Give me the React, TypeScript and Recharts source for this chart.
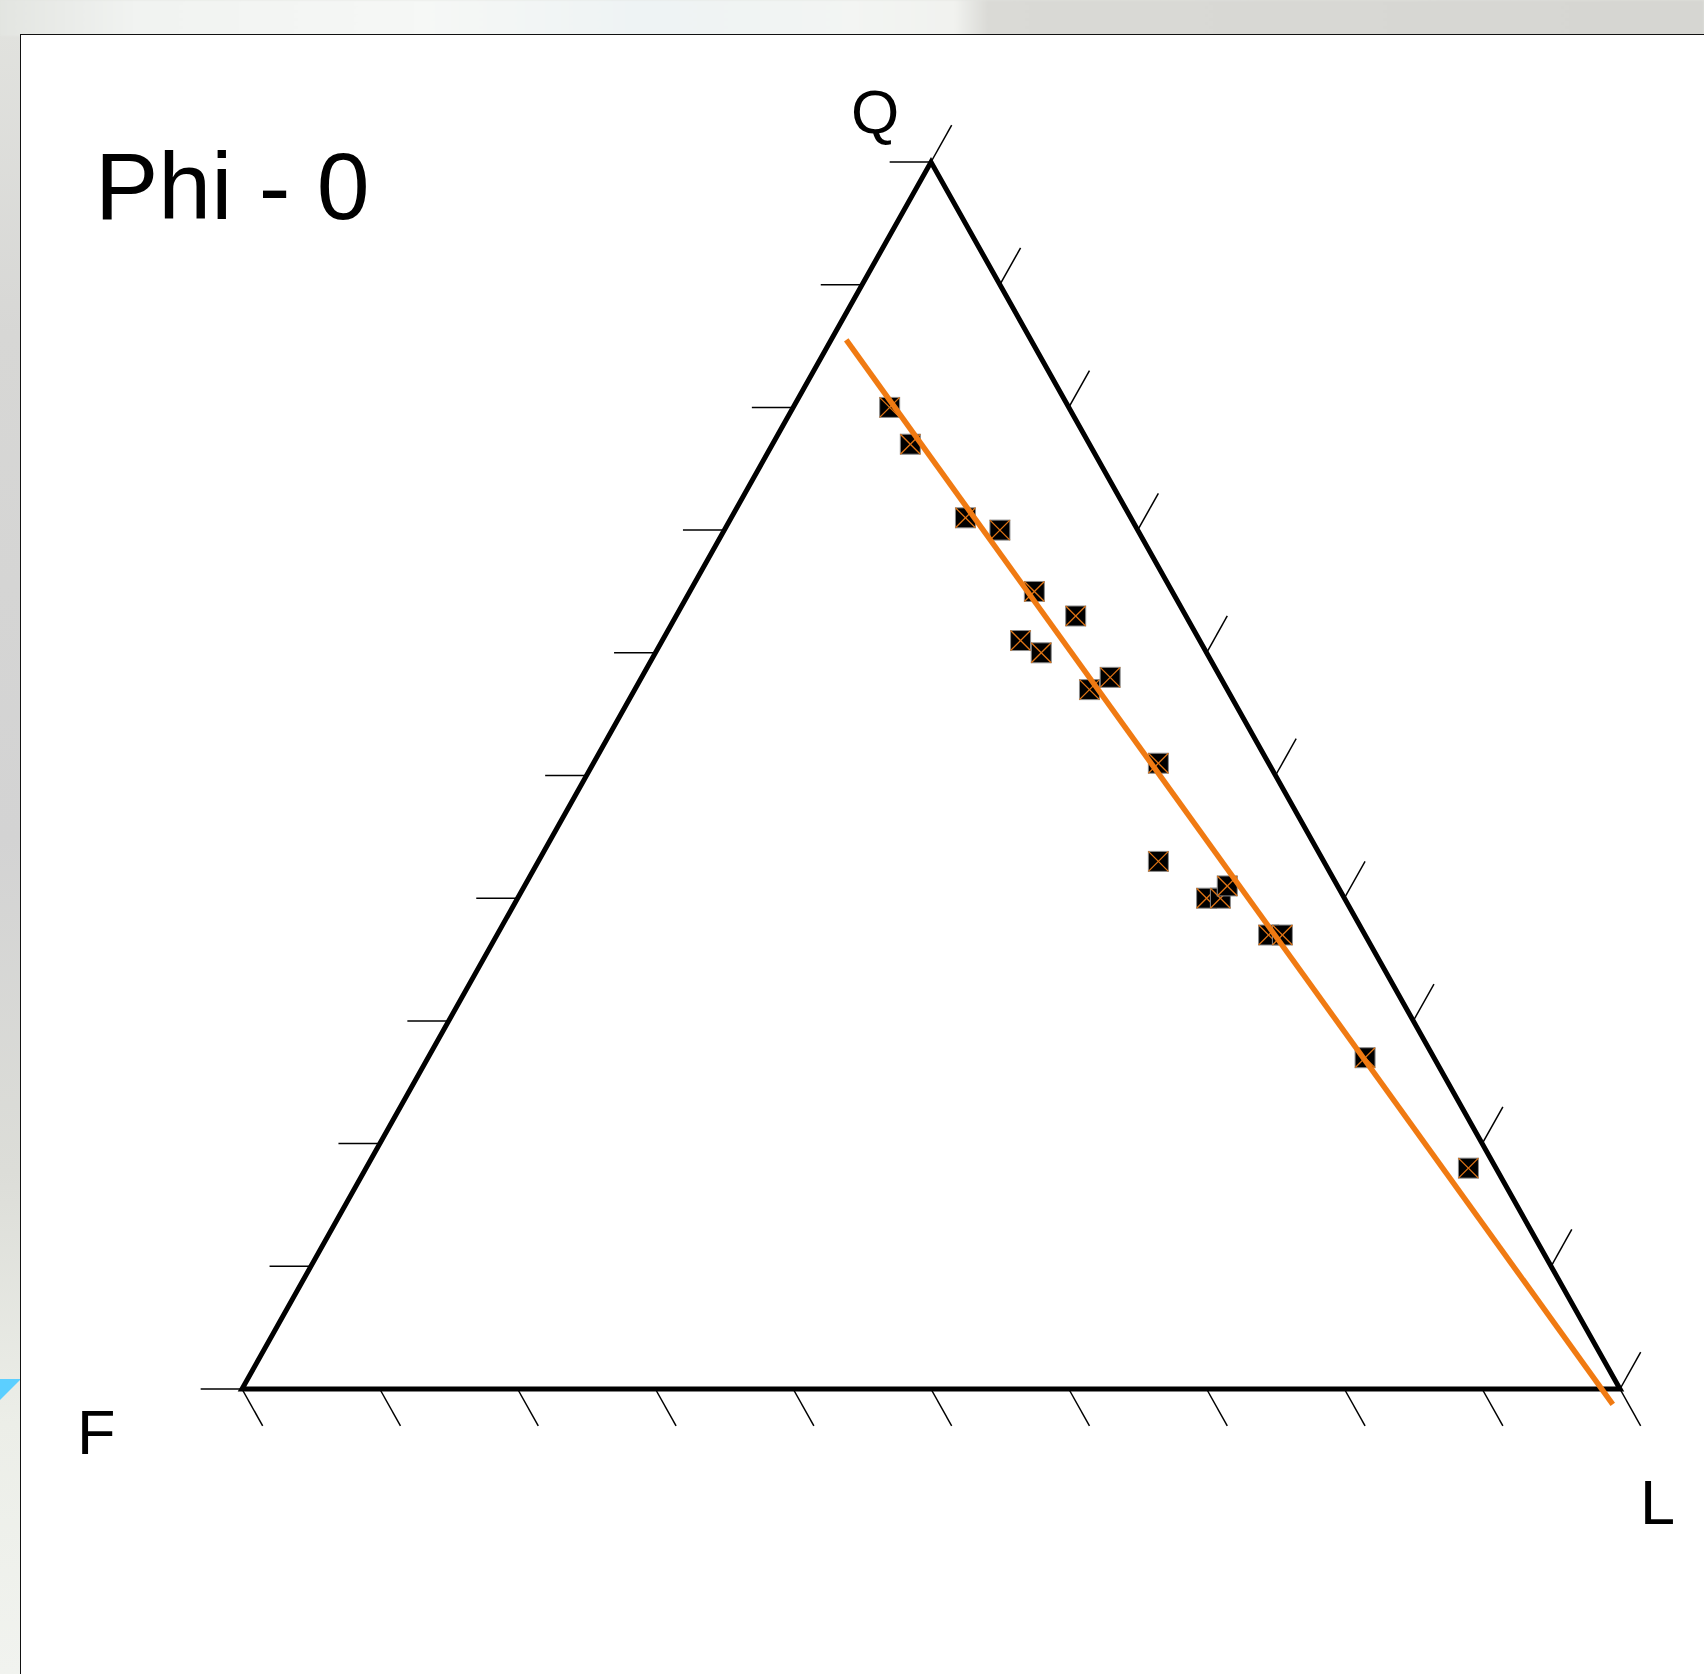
import React from 'react';
import { ScatterChart, Scatter, XAxis, YAxis, ReferenceLine } from 'recharts';

// Ternary composition of each sample (percent). F = 100 - Q - L.
const quartz = [80, 77, 71, 70, 65, 63, 61, 60, 57, 58, 51, 43, 40, 40, 41, 37, 37, 27, 18];
const lithics = [7, 10, 17, 20, 25, 29, 26, 28, 33, 34, 41, 45, 50, 51, 51, 56, 57, 68, 80];

// End points of the fitted trend line (Q, L)
const trendQ = [85.5, -1.25];
const trendL = [1.1, 100.1];

// Tick positions along each edge (percent)
const tickSteps = [0, 10, 20, 30, 40, 50, 60, 70, 80, 90, 100];

const title = 'Phi - 0';
const apexLabels = { q: 'Q', f: 'F', l: 'L' };

// Layout
const W = 1704;
const H = 1674;
const F_PX = { x: 242, y: 1389 };
const L_PX = { x: 1620, y: 1389 };
const Q_PX = { x: 931, y: 162 };

const xUnit = (L_PX.x - F_PX.x) / 100;
const yUnit = (F_PX.y - Q_PX.y) / 100;
const xDomain: [number, number] = [-F_PX.x / xUnit, (W - F_PX.x) / xUnit];
const yDomain: [number, number] = [-(H - F_PX.y) / yUnit, F_PX.y / yUnit];

const ORANGE = '#f07a12';
const FONT = '"Liberation Sans", Arial, Helvetica, sans-serif';

// Ternary (Q, L) -> cartesian with F at (0,0), L at (100,0), Q at (50,100)
const toXY = (q: number, l: number) => ({ x: l + q / 2, y: q });

const samples = quartz.map((q, i) => ({ ...toXY(q, lithics[i]), q, l: lithics[i], f: 100 - q - lithics[i] }));
const trend = trendQ.map((q, i) => toXY(q, trendL[i]));
const outline = [toXY(0, 0), toXY(0, 100), toXY(100, 0), toXY(0, 0), toXY(0, 100)];

const TICK = 0.03;
const baseTicks = tickSteps.map((s) => {
  const p = toXY(0, s);
  return [p, { x: p.x + 50 * TICK, y: p.y - 100 * TICK }];
});
const leftTicks = tickSteps.map((s) => {
  const p = toXY(s, 0);
  return [p, { x: p.x - 100 * TICK, y: p.y }];
});
const rightTicks = tickSteps.map((s) => {
  const p = toXY(s, 100 - s);
  return [p, { x: p.x + 50 * TICK, y: p.y + 100 * TICK }];
});

const SampleMarker = (props: any) => {
  const { cx, cy } = props;
  const h = 10;
  return (
    <g>
      <rect x={cx - h} y={cy - h} width={2 * h} height={2 * h} fill="#000" stroke="#8c8c8c" strokeWidth={1} />
      <line x1={cx - h} y1={cy - h} x2={cx + h} y2={cy + h} stroke="#e07414" strokeWidth={1.3} />
      <line x1={cx + h} y1={cy - h} x2={cx - h} y2={cy + h} stroke="#e07414" strokeWidth={1.3} />
    </g>
  );
};

const NoMarker = () => <g />;

export default function App() {
  return (
    <div
      style={{
        position: 'absolute',
        left: 0,
        top: 0,
        width: W,
        height: H,
        overflow: 'hidden',
        background: 'linear-gradient(180deg, #e2e3df 0%, #d7d7d5 20%, #d3d3d3 50%, #dcddd8 70%, #eceee8 85%, #f1f3ef 100%)',
      }}
    >
      <div
        style={{
          position: 'absolute',
          left: 0,
          top: 0,
          width: W,
          height: 36,
          background:
            'linear-gradient(90deg, #e3e5e1 0%, #f1f3f1 8%, #f6f8f6 25%, #eef3f4 38%, #f3f5f3 50%, #f1f2ef 56%, #dadad6 58%, #d6d6d2 100%)',
          filter: 'blur(1px)',
        }}
      />
      <svg style={{ position: 'absolute', left: 0, top: 0 }} width={40} height={H}>
        <polygon points="0,1379 21,1379 0,1400" fill="#5ccfff" />
      </svg>
      <div
        style={{
          position: 'absolute',
          left: 20,
          top: 34,
          width: W - 20,
          height: H - 34,
          background: '#ffffff',
          borderLeft: '1.5px solid #111',
          borderTop: '1.5px solid #111',
          boxSizing: 'border-box',
        }}
      />
      <div style={{ position: 'absolute', left: 0, top: 0 }}>
        <ScatterChart width={W} height={H} margin={{ top: 0, right: 0, bottom: 0, left: 0 }}>
          <XAxis type="number" dataKey="x" domain={xDomain} allowDataOverflow hide />
          <YAxis type="number" dataKey="y" domain={yDomain} allowDataOverflow hide />
          {baseTicks.map((seg, i) => (
            <ReferenceLine key={`b${i}`} segment={seg} stroke="#000" strokeWidth={1.5} ifOverflow="visible" />
          ))}
          {leftTicks.map((seg, i) => (
            <ReferenceLine key={`l${i}`} segment={seg} stroke="#000" strokeWidth={1.5} ifOverflow="visible" />
          ))}
          {rightTicks.map((seg, i) => (
            <ReferenceLine key={`r${i}`} segment={seg} stroke="#000" strokeWidth={1.5} ifOverflow="visible" />
          ))}
          <Scatter
            data={outline}
            line={{ stroke: '#000', strokeWidth: 5, strokeLinejoin: 'miter' }}
            strokeWidth={5}
            lineType="joint"
            shape={NoMarker}
            isAnimationActive={false}
          />
          <Scatter data={samples} shape={SampleMarker} isAnimationActive={false} />
          <Scatter
            data={trend}
            line={{ stroke: ORANGE, strokeWidth: 5.5 }}
            strokeWidth={5.5}
            lineType="joint"
            shape={NoMarker}
            isAnimationActive={false}
          />
        </ScatterChart>
      </div>
      <svg style={{ position: 'absolute', left: 0, top: 0 }} width={W} height={H}>
        <text x={95} y={219} fontFamily={FONT} fontSize={95} fill="#000">
          {title}
        </text>
        <text x={875} y={133} fontFamily={FONT} fontSize={62} fill="#000" textAnchor="middle">
          {apexLabels.q}
        </text>
        <text x={77} y={1454} fontFamily={FONT} fontSize={63} fill="#000">
          {apexLabels.f}
        </text>
        <text x={1640} y={1524} fontFamily={FONT} fontSize={63} fill="#000">
          {apexLabels.l}
        </text>
      </svg>
    </div>
  );
}
